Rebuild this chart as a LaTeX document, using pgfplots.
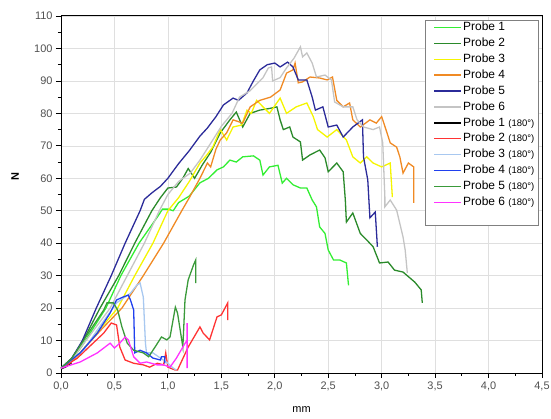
\documentclass[border=0pt]{standalone}
\usepackage{fontspec}
\setmainfont{Liberation Sans}
\usepackage{pgfplots}
\pgfplotsset{compat=1.18}

\definecolor{pA}{HTML}{33EE33}
\definecolor{pB}{HTML}{2A8A2A}
\definecolor{pC}{HTML}{F5F500}
\definecolor{pD}{HTML}{F08A24}
\definecolor{pE}{HTML}{2B2B99}
\definecolor{pF}{HTML}{C4C4C4}
\definecolor{qB}{HTML}{FF3333}
\definecolor{qC}{HTML}{A8C8F0}
\definecolor{qD}{HTML}{2040EE}
\definecolor{qE}{HTML}{3A9A3A}
\definecolor{qF}{HTML}{FF33FF}
\definecolor{txt}{HTML}{505050}
\definecolor{frame}{HTML}{808080}

\begin{document}
\begin{tikzpicture}
\begin{axis}[
  scale only axis,
  width=481bp, height=357bp,
  xmin=0, xmax=4.5, ymin=0, ymax=110,
  xtick={0,0.5,...,4.5},
  ytick={0,10,...,110},
  minor x tick num=1, minor y tick num=1,
  tick pos=left, tick align=outside,
  major tick length=5bp, minor tick length=3bp,
  every tick/.style={black, line width=0.8pt},
  axis line style={black, line width=1pt},
  grid=major,
  major grid style={gray!25, line width=0.6pt},
  /pgf/number format/assume math mode=true,
  xticklabel style={/pgf/number format/.cd, fixed, fixed zerofill, precision=1, use comma},
  ticklabel style={font=\fontsize{11}{13}\selectfont, text=txt},
  xlabel={mm}, ylabel={N},
  xlabel style={font=\fontsize{11}{13}\selectfont, at={(rel axis cs:0.5,0)}, anchor=center, yshift=-37bp},
  ylabel style={font=\fontsize{11}{13}\selectfont\bfseries, at={(rel axis cs:0,0.55)}, anchor=center, yshift=46bp},
  legend style={at={(rel axis cs:1,1)}, anchor=north east, xshift=-4bp, yshift=-4bp,
    draw=frame, font=\fontsize{12}{14}\selectfont,
    row sep=2.4bp, inner xsep=2.5bp, inner ysep=0.5bp,
    nodes={inner sep=1bp, text height=9bp, text depth=2.5bp}},
  legend cell align=left,
  legend image code/.code={\path (0bp,0bp); \draw[#1, line width=1.5pt] (6bp,0bp) -- (33bp,0bp);},
  every axis plot/.append style={line width=1.3pt},
]
% Probe 1 (180°): hidden under the others near the origin
\addplot[black, forget plot] coordinates {(0,1.2) (0.05,2) (0.1,3.2)};

\addplot[color=pA] coordinates {(0,1.5) (0.1,4) (0.2,8.5) (0.42,20) (0.56,30) (0.73,40) (0.9,48) (0.95,50.5) (1.0,50.5) (1.05,50) (1.1,52.5) (1.2,54.5) (1.3,58.6) (1.38,60) (1.46,62.6) (1.52,63.5) (1.58,65.6) (1.64,65) (1.70,66.6) (1.80,66.9) (1.86,65.6) (1.89,61) (1.95,63.5) (2.03,64) (2.07,58.5) (2.11,60) (2.17,58) (2.24,57) (2.30,57) (2.35,53.3) (2.39,51.2) (2.42,45) (2.47,43) (2.50,37.9) (2.55,34.8) (2.61,34.8) (2.67,33.9) (2.69,27)};
\addlegendentry{Probe 1}
\addplot[color=pB] coordinates {(0,1.5) (0.1,4.5) (0.2,9.5) (0.365,20) (0.54,30) (0.69,40) (0.85,50) (0.93,54) (1.0,57) (1.08,57.3) (1.14,60) (1.19,63) (1.25,60) (1.32,64) (1.40,68) (1.49,74) (1.58,78) (1.64,80.4) (1.70,75.8) (1.77,80) (1.86,81) (1.95,81.5) (2.02,82) (2.05,78) (2.08,75) (2.14,75.8) (2.17,72.7) (2.24,71.2) (2.26,65.6) (2.33,67.2) (2.42,68.7) (2.47,66.3) (2.50,62) (2.58,64.7) (2.64,62) (2.66,53.3) (2.67,46.5) (2.73,49.3) (2.80,43) (2.86,41) (2.92,38.9) (2.98,33.9) (3.06,34.2) (3.12,31.7) (3.20,31.1) (3.31,28) (3.37,25.6) (3.38,21.6)};
\addlegendentry{Probe 2}
\addplot[color=pC] coordinates {(0,1.5) (0.1,3.5) (0.2,7) (0.35,13) (0.53,20) (0.69,30) (0.86,40) (1.0,50) (1.1,54) (1.2,59) (1.3,64.7) (1.36,67) (1.42,69.6) (1.49,75) (1.55,71.8) (1.61,75.8) (1.69,76.4) (1.74,81) (1.78,80) (1.83,84) (1.89,82) (1.95,80) (2.05,84.7) (2.11,80) (2.20,82) (2.30,83.2) (2.36,79) (2.40,75) (2.49,72.7) (2.58,75) (2.67,71.8) (2.73,66.6) (2.80,64.7) (2.86,66.6) (2.92,64.7) (3.0,63.5) (3.08,64.7) (3.10,54.2)};
\addlegendentry{Probe 3}
\addplot[color=pD] coordinates {(0,1.5) (0.1,3.5) (0.2,7) (0.38,13.5) (0.57,20) (0.77,30) (0.96,40) (1.13,50) (1.2,54) (1.3,60) (1.37,64.7) (1.40,63.5) (1.45,69) (1.49,71.8) (1.55,74) (1.61,78) (1.70,77) (1.77,82) (1.86,84) (1.96,85) (2.05,87.2) (2.11,92.4) (2.17,93.4) (2.19,95.5) (2.22,89.4) (2.26,89.7) (2.33,91.2) (2.42,90.9) (2.49,90.3) (2.54,91.2) (2.58,84) (2.64,82) (2.70,83.2) (2.73,78) (2.80,75.8) (2.89,78) (2.95,77) (3.0,79) (3.05,74) (3.08,70.9) (3.14,69.6) (3.17,66.6) (3.20,61.6) (3.25,64.7) (3.30,63.5) (3.30,52.4)};
\addlegendentry{Probe 4}
\addplot[color=pE] coordinates {(0,1.5) (0.1,4.5) (0.2,10) (0.33,20) (0.47,30) (0.60,40) (0.74,50) (0.78,53.5) (0.85,55.5) (0.93,57.5) (1.0,60) (1.1,64.5) (1.2,68.5) (1.3,73) (1.37,75.5) (1.45,79) (1.52,82.6) (1.61,84.7) (1.66,84) (1.74,86.3) (1.80,90) (1.86,93.4) (1.93,95) (2.0,95.5) (2.05,94.3) (2.12,95.8) (2.17,94.3) (2.22,90.3) (2.30,90.3) (2.35,85) (2.38,81) (2.45,82) (2.50,75.8) (2.58,76.4) (2.64,72.7) (2.73,75.8) (2.82,78) (2.83,66.6) (2.87,59.5) (2.89,47.8) (2.94,49.6) (2.96,38.9)};
\addlegendentry{Probe 5}
\addplot[color=pF] coordinates {(0,1.5) (0.1,4) (0.2,8.5) (0.46,20) (0.62,30) (0.78,40) (0.92,50) (1.0,55) (1.1,59) (1.21,61.6) (1.30,65.6) (1.42,71.8) (1.50,76) (1.60,80) (1.67,85) (1.77,87) (1.89,91) (1.94,94) (1.97,94.3) (1.98,90) (2.05,91) (2.11,94) (2.18,97) (2.24,100.5) (2.26,97.4) (2.30,98.6) (2.35,95.5) (2.39,91.2) (2.47,91.8) (2.53,90.3) (2.56,83.5) (2.64,82) (2.73,82) (2.77,78) (2.83,75.8) (2.92,75) (2.98,75.8) (3.01,70.9) (3.03,54.2) (3.03,51.2) (3.08,53.3) (3.14,50.2) (3.20,41.9) (3.22,37.9) (3.24,30.8)};
\addlegendentry{Probe 6}

\addlegendimage{color=black}
\addlegendentry{Probe 1 {\fontsize{9.5}{11}\selectfont(180°)}}
\addplot[color=qB] coordinates {(0,1.5) (0.15,4.5) (0.30,9.2) (0.40,12.3) (0.47,15.4) (0.52,14.8) (0.55,8) (0.60,4) (0.68,3) (0.77,2.5) (0.83,1.8) (0.90,3) (0.96,2.5) (0.98,6.2) (1.0,1.8) (1.07,0.9) (1.09,0.9) (1.19,8) (1.30,14.2) (1.33,12.3) (1.39,10.2) (1.46,17.3) (1.50,17.9) (1.56,21.6) (1.56,16.3)};
\addlegendentry{Probe 2 {\fontsize{9.5}{11}\selectfont(180°)}}
\addplot[color=qC] coordinates {(0,1.5) (0.21,7) (0.36,14.2) (0.52,21.6) (0.65,24.6) (0.71,27.1) (0.74,27.7) (0.77,23.4) (0.79,9.2) (0.80,6.2) (0.86,6.2) (0.93,4.6) (1.0,3) (1.05,1.5) (1.08,0.9)};
\addlegendentry{Probe 3 {\fontsize{9.5}{11}\selectfont(180°)}}
\addplot[color=qD] coordinates {(0,1.5) (0.18,6.2) (0.34,12.3) (0.46,18.5) (0.52,22.5) (0.58,23.4) (0.63,24) (0.65,22.5) (0.68,19.4) (0.69,6.2) (0.74,7) (0.80,6.2) (0.86,4.6) (0.93,4) (0.94,5) (0.97,5) (0.97,3)};
\addlegendentry{Probe 4 {\fontsize{9.5}{11}\selectfont(180°)}}
\addplot[color=qE] coordinates {(0,1.5) (0.1,4.5) (0.2,9.5) (0.30,14.5) (0.40,19.4) (0.43,21.6) (0.49,21.6) (0.53,19.4) (0.57,14.2) (0.62,9.2) (0.68,7) (0.77,6.2) (0.82,5) (0.88,8) (0.94,11.1) (0.99,10.2) (1.02,11.1) (1.07,20.3) (1.09,18.5) (1.14,8) (1.16,22.5) (1.19,28.7) (1.24,33.3) (1.26,34.8) (1.26,27.7)};
\addlegendentry{Probe 5 {\fontsize{9.5}{11}\selectfont(180°)}}
\addplot[color=qF] coordinates {(0,1.5) (0.18,3.4) (0.34,6.2) (0.46,9.2) (0.50,7.7) (0.55,9.2) (0.60,11.1) (0.63,10.2) (0.68,5) (0.74,3) (0.80,3.4) (0.90,2.5) (0.96,2.5) (1.02,1.8) (1.08,4.6) (1.14,8) (1.18,10.2) (1.18,15.4) (1.18,1.5)};
\addlegendentry{Probe 6 {\fontsize{9.5}{11}\selectfont(180°)}}
% empty row: the frame leaves room below the last entry
\addlegendimage{empty legend}
\addlegendentry{}

\coordinate (SW) at (rel axis cs:0,0);
\coordinate (NE) at (rel axis cs:1,1);
\end{axis}
\pgfresetboundingbox
\path[use as bounding box] ([shift={(-61bp,-46bp)}]SW) rectangle ([shift={(9bp,16bp)}]NE);
\end{tikzpicture}
\end{document}
